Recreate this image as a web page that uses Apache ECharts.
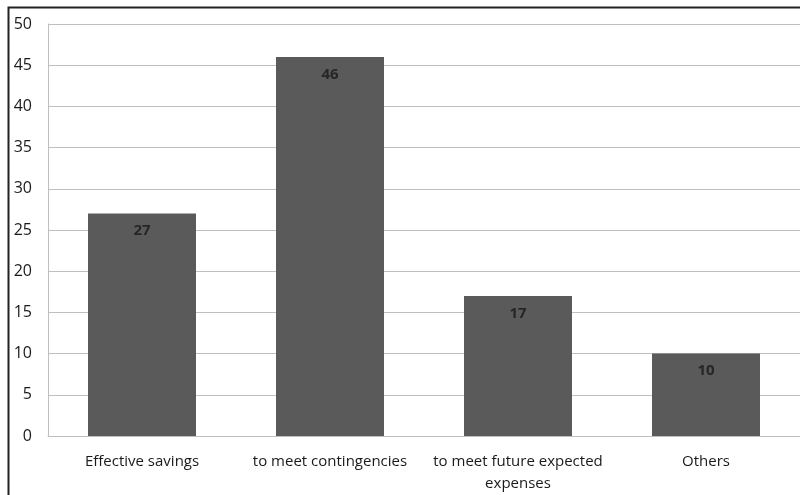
<!DOCTYPE html>
<html>
<head>
<meta charset="utf-8">
<script src="https://cdn.jsdelivr.net/npm/echarts@6/dist/echarts.min.js"></script>
<style>
  html, body { margin: 0; padding: 0; background: #fff; }
  #chart { width: 800px; height: 495px; }
</style>
</head>
<body>
<div id="chart"></div>
<script>
// Purposes of saving (percent of respondents)
const categories = ['Effective savings', 'to meet contingencies', 'to meet future expected\nexpenses', 'Others'];
const values = [27, 46, 17, 10];
const yTicks = { min: 0, max: 50, interval: 5 };

const chart = echarts.init(document.getElementById('chart'), null, { renderer: 'canvas' });
const fontFamily = '"Open Sans", "Liberation Sans", sans-serif';

chart.setOption({
  animation: false,
  backgroundColor: '#ffffff',
  graphic: [{
    type: 'rect',
    shape: { x: 8.5, y: 7.5, width: 900, height: 600 },
    style: { fill: 'none', stroke: '#222222', lineWidth: 2 },
    silent: true
  }],
  grid: { left: 48, right: 0, top: 24, bottom: 59, containLabel: false },
  xAxis: {
    type: 'category',
    data: categories,
    axisLine: { show: true, lineStyle: { color: '#bfbfbf', width: 1 } },
    axisTick: { show: false },
    axisLabel: {
      color: '#1a1a1a', fontSize: 15, fontFamily: fontFamily,
      margin: 15, lineHeight: 22, interval: 0
    }
  },
  yAxis: {
    type: 'value',
    min: yTicks.min, max: yTicks.max, interval: yTicks.interval,
    axisLine: { show: true, lineStyle: { color: '#bfbfbf', width: 1 } },
    axisTick: { show: false },
    splitLine: { show: true, lineStyle: { color: '#bfbfbf', width: 1 } },
    axisLabel: { color: '#1a1a1a', fontSize: 16, fontFamily: fontFamily, margin: 16 }
  },
  series: [{
    type: 'bar',
    data: values,
    barWidth: 108,
    itemStyle: { color: '#5a5a5a' },
    label: {
      show: true, position: 'insideTop', distance: 10,
      color: '#262626', fontSize: 15, fontWeight: 'bold', fontFamily: fontFamily
    }
  }]
});
</script>
</body>
</html>
